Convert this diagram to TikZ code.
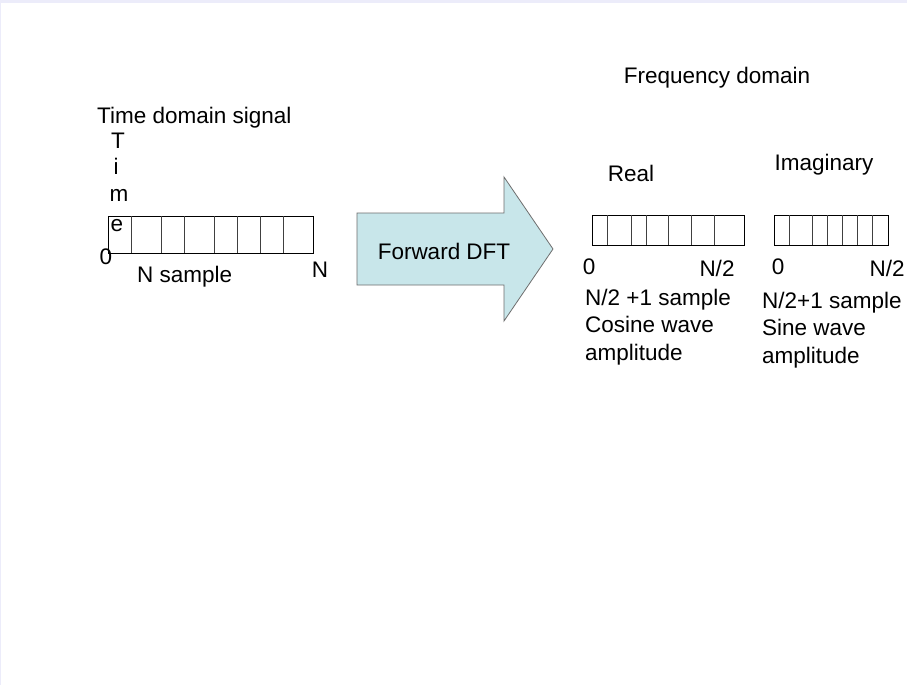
\documentclass[tikz,border=0pt]{standalone}
\usepackage{fontspec}
\setmainfont{Liberation Sans}
\definecolor{arrowfill}{RGB}{200,230,234}
\definecolor{arrowline}{RGB}{110,110,110}
\definecolor{topband}{RGB}{236,236,250}
\begin{document}
\begin{tikzpicture}[x=1pt,y=-1pt,
  lbl/.style={inner sep=0pt, font=\fontsize{22.5}{27.5}\selectfont},
  cellbox/.style={draw=black, line width=0.9pt},
  divider/.style={draw=black!75, line width=0.8pt}]
\useasboundingbox (0,0) rectangle (907,685);
\fill[white] (0,0) rectangle (907,685);
\fill[topband] (0,0) rectangle (907,3);
\fill[topband] (0,0) rectangle (1,685);

% titles
\node[lbl] (freq) at (717,78) {Frequency domain};
\node[lbl, anchor=west] (tds) at (97,118) {Time domain signal};
\node[lbl] (tT) at (118,141) {T};
\node[lbl] (ti) at (116,166) {i};
\node[lbl] (tm) at (119,195) {m};
\node[lbl] (te) at (117,226) {e};

% time-domain box
\draw[cellbox] (108,216) rectangle (313,253);
\foreach \xx in {131,161,184,214,237,260,283}
  \draw[divider] (\xx,216) -- (\xx,253);
\node[lbl] (t0) at (106,257) {0};
\node[lbl, anchor=west] (nsamp) at (137,277) {N sample};
\node[lbl] (tN) at (320,270) {N};

% arrow
\draw[fill=arrowfill, draw=arrowline, line width=0.8pt]
  (357,213) -- (504,213) -- (504,177) -- (553,249) -- (504,321) -- (504,285) -- (357,285) -- cycle;
\node[lbl] (fdft) at (444,251) {Forward DFT};

% real
\node[lbl] (real) at (631,173) {Real};
\draw[cellbox] (592,215) rectangle (744,245);
\foreach \xx in {607,631,646,668,691,714}
  \draw[divider] (\xx,215) -- (\xx,245);
\node[lbl] (r0) at (589,267) {0};
\node[lbl] (rN) at (717,268) {N/2};
\node[lbl, anchor=west, align=left] (rtxt) at (585,327) {N/2 +1 sample\\Cosine wave\\amplitude};

% imaginary
\node[lbl] (imag) at (824,165) {Imaginary};
\draw[cellbox] (774,215) rectangle (888,245);
\foreach \xx in {789,812,827,842,857,872}
  \draw[divider] (\xx,215) -- (\xx,245);
\node[lbl] (i0) at (778,267) {0};
\node[lbl] (iN) at (887,268) {N/2};
\node[lbl, anchor=west, align=left] (itxt) at (762,330) {N/2+1 sample\\Sine wave\\amplitude};
\end{tikzpicture}
\end{document}
